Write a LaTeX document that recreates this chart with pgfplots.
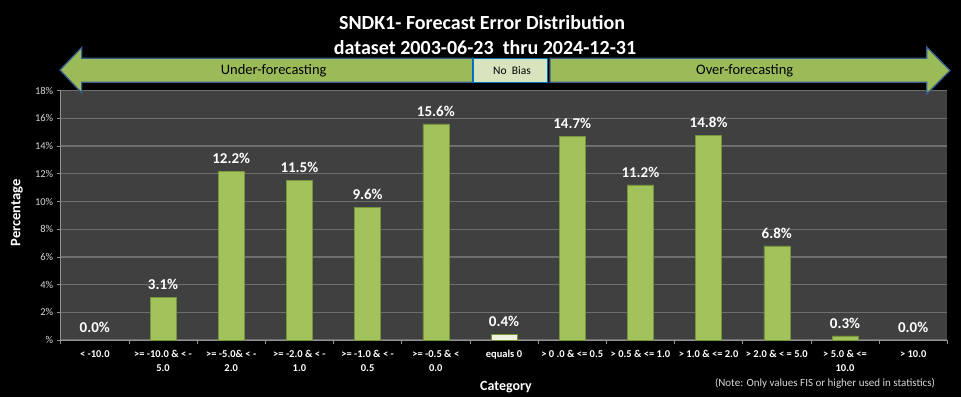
\documentclass[border=0pt]{standalone}
\usepackage{pgfplots}
\pgfplotsset{compat=1.18}
\usepackage{fontspec}
\setmainfont{Carlito}
\definecolor{plotbg}{HTML}{404040}
\definecolor{gridc}{HTML}{6E6E6E}
\definecolor{barg}{HTML}{A2C35C}
\definecolor{bare}{HTML}{77933C}
\definecolor{arrowg}{HTML}{9BBB59}
\definecolor{arrowb}{HTML}{385D8A}
\definecolor{nbfill}{HTML}{D7E4BD}
\definecolor{nbb}{HTML}{0070C0}
\definecolor{tickc}{HTML}{D9D9D9}
\definecolor{whitebar}{HTML}{EEF3E2}
\begin{document}
\begin{tikzpicture}[x=1pt,y=1pt]
\useasboundingbox (0,0) rectangle (961,397);
\fill[black] (0,0) rectangle (961,397);
\begin{axis}[at={(60.7pt,57pt)}, anchor=south west, scale only axis,
  width=886.6pt, height=249.3pt,
  xmin=-0.5, xmax=12.5, ymin=0, ymax=18,
  axis background/.style={fill=plotbg},
  axis x line*=bottom, axis y line*=left,
  axis line style={draw=gray!85, line width=1pt},
  ytick={0,2,4,6,8,10,12,14,16,18},
  yticklabels={\%,2\%,4\%,6\%,8\%,10\%,12\%,14\%,16\%,18\%},
  ymajorgrids, major grid style={draw=gridc, line width=1.3pt},
  tick align=outside, major tick length=4pt,
  tick style={draw=gray!85, line width=0.8pt},
  xtick={-0.5,0.5,1.5,2.5,3.5,4.5,5.5,6.5,7.5,8.5,9.5,10.5,11.5,12.5},
  xticklabels={{< -10.0},{>= -10.0 \& < -\\5.0},{>= -5.0\& < -\\2.0},{>= -2.0 \& < -\\1.0},{>= -1.0 \& < -\\0.5},{>= -0.5 \& <\\0.0},{equals 0},{> 0 .0 \& <= 0.5},{> 0.5 \& <= 1.0},{> 1.0 \& <= 2.0},{> 2.0 \& < = 5.0},{> 5.0 \& <=\\10.0},{> 10.0},{}},
  xticklabel style={xshift=34.1pt, align=center, font=\bfseries\fontsize{10.5}{14}\selectfont, text=white, anchor=north, yshift=-3pt},
  yticklabel style={font=\fontsize{10.5}{11}\selectfont, text=tickc},
  ybar, bar width=26pt, bar shift=0pt,
  nodes near coords, point meta=explicit symbolic,
  nodes near coords style={font=\bfseries\fontsize{15}{16}\selectfont, text=white, anchor=south, yshift=4pt},
  clip=false,
]
\addplot[fill=barg, draw=bare, line width=0.6pt] coordinates {
  (1,3.1) [3.1\%]
  (2,12.2) [12.2\%]
  (3,11.5) [11.5\%]
  (4,9.6) [9.6\%]
  (5,15.6) [15.6\%]
  (7,14.7) [14.7\%]
  (8,11.2) [11.2\%]
  (9,14.8) [14.8\%]
  (10,6.8) [6.8\%]
  (11,0.3) [0.3\%]
};
\addplot[fill=whitebar, draw=bare, line width=0.6pt] coordinates {
  (6,0.4) [0.4\%]
};
\addplot[fill=none, draw=none] coordinates {
  (0,0.0) [0.0\%]
  (12,0.0) [0.0\%]
};
\end{axis}
% title
\node[font=\bfseries\fontsize{20}{24}\selectfont, text=white] at (482,374) {SNDK1- Forecast Error Distribution};
\node[font=\bfseries\fontsize{20}{24}\selectfont, text=white] at (485,349) {dataset 2003-06-23\ \ thru 2024-12-31};
% arrows
\draw[fill=arrowg, draw=arrowb, line width=1.3pt, line join=miter]
  (60,327) -- (81.7,349.5) -- (81.7,338.7) -- (473,338.7) -- (473,314.7) -- (81.7,314.7) -- (81.7,304) -- cycle;
\draw[fill=arrowg, draw=arrowb, line width=1.3pt, line join=miter]
  (550,338.7) -- (926.7,338.7) -- (926.7,350) -- (950,326.5) -- (926.7,303) -- (926.7,314.7) -- (550,314.7) -- cycle;
\draw[fill=nbfill, draw=nbb, line width=1.3pt] (473,338.7) rectangle (547.7,314.7);
\node[font=\fontsize{14.5}{16}\selectfont, text=black] at (273.7,326.5) {Under-forecasting};
\node[font=\fontsize{14.5}{16}\selectfont, text=black] at (744.7,326.5) {Over-forecasting};
\node[font=\fontsize{11.5}{13}\selectfont, text=black] at (512,326.5) {No\ \ Bias};
% axis titles
\node[font=\bfseries\fontsize{14.5}{16}\selectfont, text=white, rotate=90] at (17,184) {Percentage};
\node[font=\bfseries\fontsize{14}{16}\selectfont, text=white] at (506,10.3) {Category};
\node[font=\fontsize{11}{12}\selectfont, text=tickc] at (825,14) {(Note: Only values FIS or higher used in statistics)};
\end{tikzpicture}
\end{document}
